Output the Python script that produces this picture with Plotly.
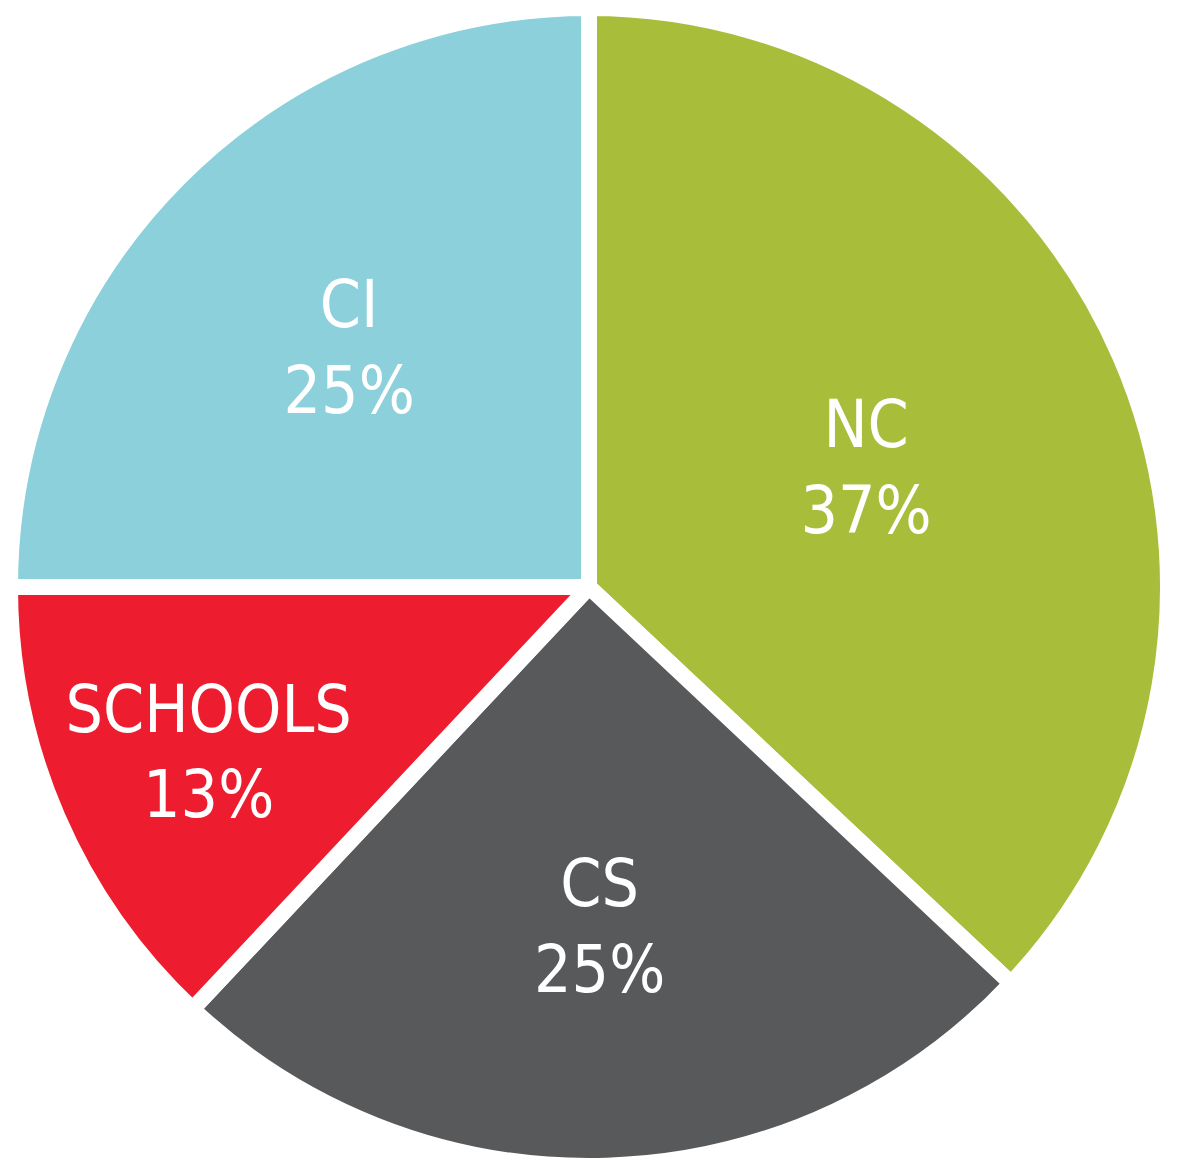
import plotly.graph_objects as go

labels = ["NC", "CS", "SCHOOLS", "CI"]
values = [37, 25, 13, 25]
colors = ["#a8bd3a", "#58595b", "#ed1c2e", "#8bd0da"]

W, H = 1178, 1174
# page body has an 8px default margin; position the pie domain to compensate
fig = go.Figure(go.Pie(
    labels=labels,
    values=values,
    sort=False,
    direction="clockwise",
    rotation=0,
    marker=dict(colors=colors, line=dict(color="white", width=16)),
    texttemplate="%{label}<br>%{value}%",
    textposition="inside",
    insidetextorientation="horizontal",
    textfont=dict(family="DejaVu Sans Condensed, Liberation Sans Narrow, sans-serif", size=76, color="white"),
    showlegend=False,
    hoverinfo="label+value",
    domain=dict(x=[2 / W, 1160 / W], y=[1 - 1158 / H, 1]),
))
fig.update_layout(
    width=W, height=H,
    margin=dict(l=0, r=0, t=0, b=0),
    paper_bgcolor="white",
    plot_bgcolor="white",
    uniformtext=dict(minsize=60, mode="show"),
)
fig.write_html("out.html")
